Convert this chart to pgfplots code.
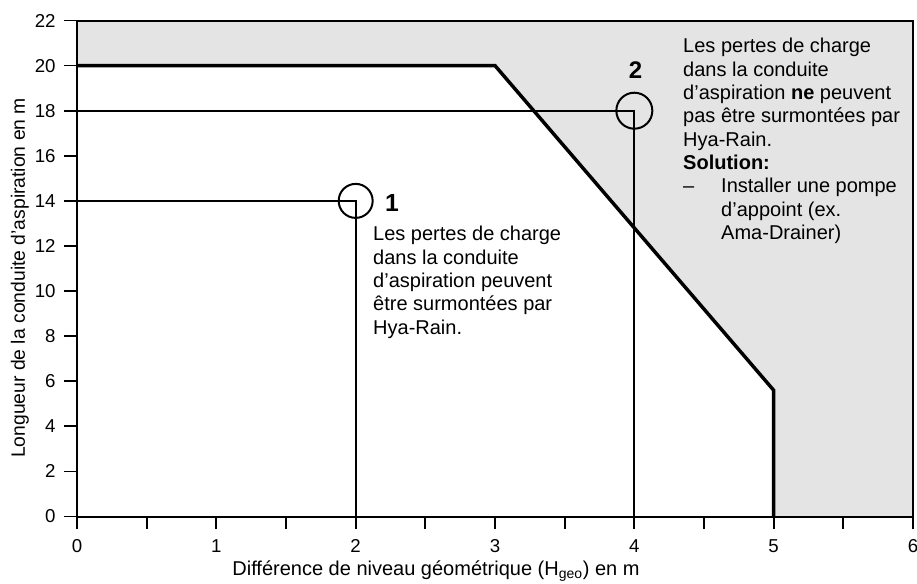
\documentclass[border=0pt]{standalone}
\usepackage{pgfplots}
\pgfplotsset{compat=1.18}
\usepackage{fontspec}
\setmainfont{Liberation Sans}
\definecolor{shade}{HTML}{E4E4E4}
\begin{document}
\begin{tikzpicture}
\begin{axis}[
  scale only axis,
  width=627pt, height=372pt,
  xmin=0, xmax=6, ymin=0, ymax=22,
  xtick={0,1,2,3,4,5,6},
  ytick={0,2,4,6,8,10,12,14,16,18,20,22},
  minor x tick num=1,
  xtick pos=bottom, ytick pos=left,
  tick align=outside,
  major tick length=9.5pt,
  minor tick length=9pt,
  tick style={line width=1.3pt, black},
  axis line style={line width=1.5pt},
  axis on top,
  /pgf/number format/assume math mode=true,
  tick label style={font=\fontsize{14}{16}\selectfont},
  yticklabel style={xshift=-3pt},
  xticklabel style={yshift=-4pt},
  clip=false,
]
\addplot[fill=shade, draw=none] coordinates {(0,20) (3,20) (5,5.6) (5,0) (6,0) (6,22) (0,22)} -- cycle;
\addplot[line width=1.5pt] coordinates {(0,14) (2,14) (2,0)};
\addplot[line width=1.5pt] coordinates {(0,18) (4,18) (4,0)};
\addplot[line width=2.6pt, line join=miter] coordinates {(0,20) (3,20) (5,5.6) (5,0)};
\addplot[only marks, mark=o, mark size=12.75pt, mark options={line width=1.5pt}] coordinates {(2,14)};
\addplot[only marks, mark=o, mark size=13.5pt, mark options={line width=1.5pt}] coordinates {(4,18)};
\node[font=\fontsize{18.5}{20}\selectfont\bfseries] at (axis cs:2.26,13.9) {1};
\node[font=\fontsize{18}{20}\selectfont\bfseries] at (axis cs:4.008,19.8) {2};
\node[anchor=north west, inner sep=0pt, align=left, font=\fontsize{15}{17.5}\selectfont] at (axis cs:2.124,12.88)
 {Les pertes de charge\\dans la conduite\\d’aspiration peuvent\\être surmontées par\\Hya-Rain.};
\node[anchor=north west, inner sep=0pt, align=left, font=\fontsize{15}{17.5}\selectfont] at (axis cs:4.349,21.22)
 {Les pertes de charge\\dans la conduite\\d’aspiration \textbf{ne} peuvent\\pas être surmontées par\\Hya-Rain.\\\textbf{Solution:}\\\makebox[28.5pt][l]{–}Installer une pompe\\\hspace*{28.5pt}d’appoint (ex.\\\hspace*{28.5pt}Ama-Drainer)};
\node[font=\fontsize{15}{17}\selectfont] at ([yshift=-40.9pt]rel axis cs:0.4294,0) {Différence de niveau géométrique (H\textsubscript{geo}) en m};
\node[rotate=90, font=\fontsize{14.5}{17}\selectfont] at ([xshift=-42.75pt]rel axis cs:0,0.481) {Longueur de la conduite d’aspiration en m};
\coordinate (sw) at (rel axis cs:0,0);
\coordinate (ne) at (rel axis cs:1,1);
\end{axis}
\pgfresetboundingbox
\path ([shift={(-57.75pt,-50.6pt)}]sw) rectangle ([shift={(3pt,15.4pt)}]ne);
\end{tikzpicture}
\end{document}
